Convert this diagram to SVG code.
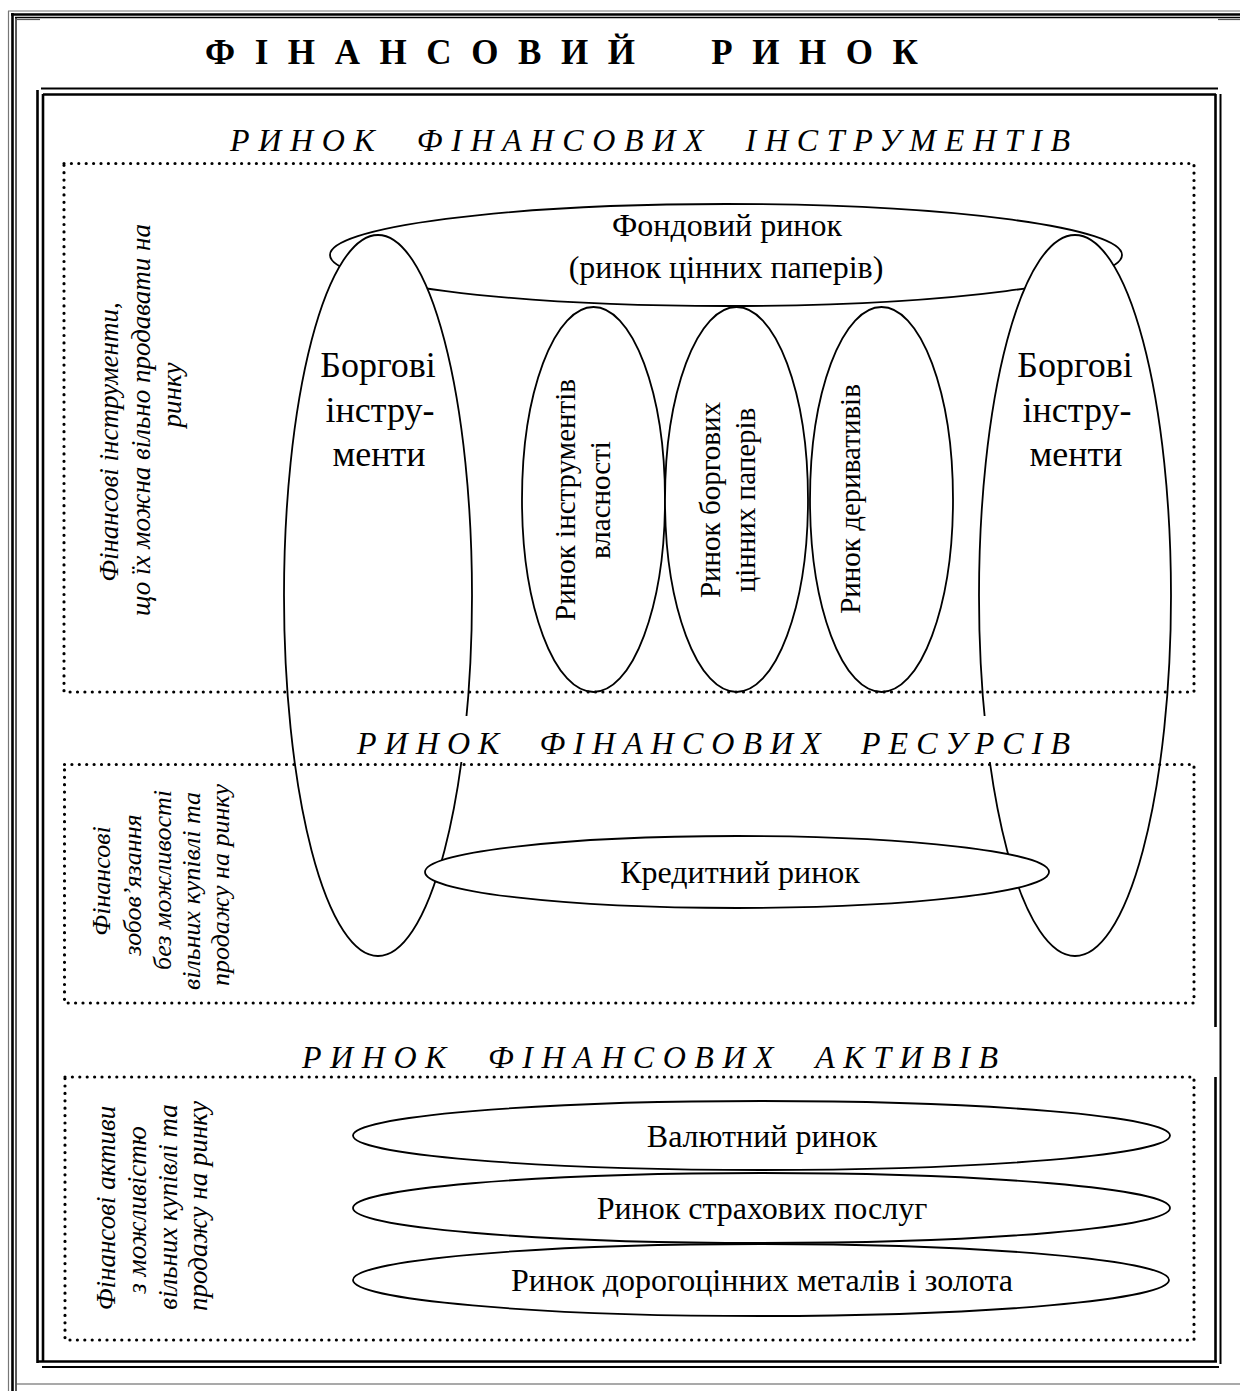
<svg xmlns="http://www.w3.org/2000/svg" width="1240" height="1391" viewBox="0 0 1240 1391">
<style>
 text{font-family:"Liberation Serif","Times New Roman",serif;fill:#000}
 .title{font-size:35px;font-weight:bold;white-space:pre}
 .head{font-size:32px;font-style:italic;white-space:pre}
 .side{font-size:27px;font-style:italic}
 .side2{font-size:26px;font-style:italic}
 .lbl{font-size:32px}
 .vlbl{font-size:29px}
 .big{font-size:36px}
 .node{fill:#fff;stroke:#000;stroke-width:1.8}
 .dot{fill:none;stroke:#000;stroke-width:3.2;stroke-linecap:round;stroke-dasharray:0 7.4}
 .fr{fill:none;stroke:#000}
 .mid{text-anchor:middle}
</style>
<rect width="1240" height="1391" fill="#fff"/>
<g id="outer-frame" class="fr">
 <line x1="8" y1="11" x2="1240" y2="11" stroke="#777" stroke-width="1.2"/>
 <line x1="11" y1="14.5" x2="1240" y2="14.5" stroke-width="2.6"/>
 <line x1="15" y1="17.5" x2="1240" y2="17.5" stroke-width="1.3"/>
 <line x1="8.5" y1="11" x2="8.5" y2="1391" stroke="#777" stroke-width="1.2"/>
 <line x1="12.5" y1="13" x2="12.5" y2="1391" stroke-width="2.6"/>
 <line x1="16" y1="17" x2="16" y2="1391" stroke-width="1.3"/>
 <line x1="16" y1="1384" x2="1240" y2="1384" stroke="#555" stroke-width="1.2"/>
 <line x1="17" y1="19.5" x2="40" y2="19.5" stroke="#555" stroke-width="1.2"/>
 <line x1="1218" y1="19.5" x2="1240" y2="19.5" stroke="#555" stroke-width="1.2"/>
</g>
<g id="inner-frame" class="fr">
 <line x1="41" y1="88.5" x2="1218" y2="88.5" stroke-width="2"/>
 <line x1="43" y1="94.5" x2="1216" y2="94.5" stroke-width="2.6"/>
 <line x1="37.5" y1="90" x2="37.5" y2="1363" stroke-width="2.6"/>
 <line x1="43" y1="94" x2="43" y2="1362" stroke-width="2.6"/>
 <line x1="1215.5" y1="94" x2="1215.5" y2="1027" stroke-width="2.6"/>
 <line x1="1215.5" y1="1077" x2="1215.5" y2="1362" stroke-width="2.6"/>
 <line x1="1220.5" y1="94" x2="1220.5" y2="1364" stroke-width="2"/>
 <line x1="37" y1="1361.5" x2="1217" y2="1361.5" stroke-width="2.6"/>
 <line x1="42" y1="1367" x2="1219" y2="1367" stroke-width="2"/>
</g>
<g id="title">
 <text class="title" x="205" y="64" textLength="713" lengthAdjust="spacing">ФІНАНСОВИЙ  РИНОК</text>
</g>
<g id="stock-market">
 <ellipse class="node" cx="726" cy="255" rx="396" ry="51"/>
 <text class="lbl mid" x="727" y="236">Фондовий ринок</text>
 <text class="lbl mid" x="726" y="278">(ринок цінних паперів)</text>
</g>
<g id="debt-left">
 <ellipse class="node" cx="378" cy="595.5" rx="94" ry="360.5"/>
 <text class="big mid" x="378" y="377">Боргові</text>
 <text class="big mid" x="380" y="422">інстру-</text>
 <text class="big mid" x="379" y="466">менти</text>
</g>
<g id="debt-right">
 <ellipse class="node" cx="1075" cy="595.5" rx="96" ry="360.5"/>
 <text class="big mid" x="1075" y="377">Боргові</text>
 <text class="big mid" x="1077" y="422">інстру-</text>
 <text class="big mid" x="1076" y="466">менти</text>
</g>
<g id="equity-market">
 <ellipse class="node" cx="593.5" cy="499.5" rx="71.5" ry="192.5"/>
 <text class="vlbl mid" transform="translate(575,500) rotate(-90)">Ринок інструментів</text>
 <text class="vlbl mid" transform="translate(610,500) rotate(-90)">власності</text>
</g>
<g id="debt-securities-market">
 <ellipse class="node" cx="736.5" cy="499.5" rx="71.5" ry="192.5"/>
 <text class="vlbl mid" transform="translate(720,500) rotate(-90)">Ринок боргових</text>
 <text class="vlbl mid" transform="translate(755,500) rotate(-90)">цінних паперів</text>
</g>
<g id="derivatives-market">
 <ellipse class="node" cx="881.5" cy="499.5" rx="71.5" ry="192.5"/>
 <text class="vlbl mid" transform="translate(860,499) rotate(-90)">Ринок деривативів</text>
</g>
<g id="heading-1">
 <text class="head" x="230" y="151" textLength="840" lengthAdjust="spacing">РИНОК  ФІНАНСОВИХ  ІНСТРУМЕНТІВ</text>
</g>
<g id="heading-2">
 <rect x="300" y="716" width="800" height="46" fill="#fff"/>
 <text class="head" x="357" y="754" textLength="713" lengthAdjust="spacing">РИНОК  ФІНАНСОВИХ  РЕСУРСІВ</text>
</g>
<g id="heading-3">
 <text class="head" x="302" y="1068" textLength="696" lengthAdjust="spacing">РИНОК  ФІНАНСОВИХ  АКТИВІВ</text>
</g>
<g id="credit-market">
 <ellipse class="node" cx="737" cy="872" rx="312" ry="36"/>
 <text class="lbl mid" x="740" y="883">Кредитний ринок</text>
</g>
<g id="currency-market">
 <ellipse class="node" cx="761.5" cy="1135.5" rx="408.5" ry="34.5"/>
 <text class="lbl mid" x="762" y="1147">Валютний ринок</text>
</g>
<g id="insurance-market">
 <ellipse class="node" cx="761.5" cy="1208" rx="408.5" ry="35"/>
 <text class="lbl mid" x="762" y="1219">Ринок страхових послуг</text>
</g>
<g id="metals-market">
 <ellipse class="node" cx="761" cy="1280" rx="408" ry="36"/>
 <text class="lbl mid" x="762" y="1291">Ринок дорогоцінних металів і золота</text>
</g>
<g id="section-boxes">
 <rect class="dot" x="64" y="163.5" width="1130" height="528.5"/>
 <rect class="dot" x="64.5" y="764.5" width="1129.5" height="238.5"/>
 <rect class="dot" x="65" y="1077" width="1129" height="263"/>
</g>
<g id="side-label-1">
 <text class="side mid" transform="translate(118,442) rotate(-90)">Фінансові інструменти,</text>
 <text class="side mid" transform="translate(150,420) rotate(-90)">що їх можна вільно продавати на</text>
 <text class="side mid" transform="translate(181,395) rotate(-90)">ринку</text>
</g>
<g id="side-label-2">
 <text class="side2 mid" transform="translate(110,881) rotate(-90)">Фінансові</text>
 <text class="side2 mid" transform="translate(141,885) rotate(-90)">зобов’язання</text>
 <text class="side2 mid" transform="translate(171,880) rotate(-90)">без можливості</text>
 <text class="side2 mid" transform="translate(200,891) rotate(-90)">вільних купівлі та</text>
 <text class="side2 mid" transform="translate(229,885) rotate(-90)">продажу на ринку</text>
</g>
<g id="side-label-3">
 <text class="side mid" transform="translate(115,1208) rotate(-90)">Фінансові активи</text>
 <text class="side mid" transform="translate(146,1210) rotate(-90)">з можливістю</text>
 <text class="side mid" transform="translate(177,1207) rotate(-90)">вільних купівлі та</text>
 <text class="side mid" transform="translate(207,1206) rotate(-90)">продажу на ринку</text>
</g>
<g id="connectors"/>
</svg>
